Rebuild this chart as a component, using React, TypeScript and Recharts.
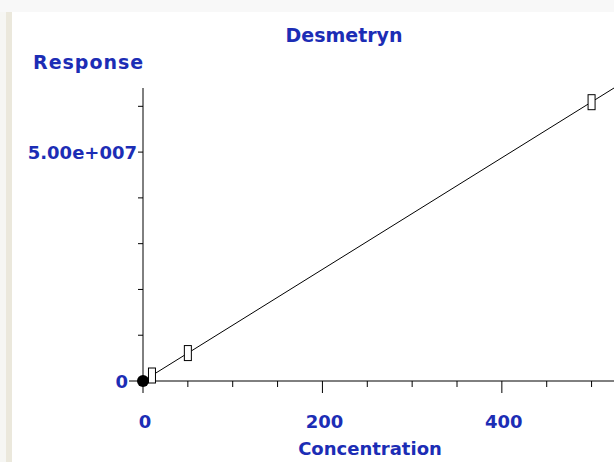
import { ComposedChart, Line, Scatter, XAxis, YAxis } from 'recharts';

// calibration points (concentration vs response)
const concentrations = [10, 50, 500];
const responses = [1200000, 6100000, 60900000];

// origin point, drawn filled
const originConc = [0];
const originResp = [0];

// linear fit
const fitConc = [0, 525];
const fitResp = [0, 64000000];

const xTicks = [0, 50, 100, 150, 200, 250, 300, 350, 400, 450, 500];
const xLabelled = [0, 200, 400];
const yTicks = [0, 10000000, 20000000, 30000000, 40000000, 50000000, 60000000];
const yLabelled = [0, 50000000];

const BLUE = '#1c2db5';
const FONT = '"DejaVu Sans", Verdana, sans-serif';

const points = concentrations.map((c, i) => ({ x: c, y: responses[i] }));
const origin = originConc.map((c, i) => ({ x: c, y: originResp[i] }));
const fit = fitConc.map((c, i) => ({ x: c, fit: fitResp[i] }));

function fmtResponse(v: number) {
  if (v === 0) return '0';
  const exp = Math.floor(Math.log10(v));
  const mant = (v / Math.pow(10, exp)).toFixed(2);
  return `${mant}e+${String(exp).padStart(3, '0')}`;
}

const XTick = ({ x, y, payload }: any) => {
  const major = xLabelled.includes(payload.value);
  return (
    <g>
      <line x1={x} x2={x} y1={y} y2={y + (major ? 12 : 6)} stroke="#000" />
      {major && (
        <text x={x + 2} y={y + 47} textAnchor="middle" fill={BLUE} fontFamily={FONT} fontWeight="bold" fontSize={18}>
          {payload.value}
        </text>
      )}
    </g>
  );
};

const YTick = ({ x, y, payload }: any) => {
  const labelled = yLabelled.includes(payload.value);
  const len = payload.value === 0 ? 14 : 5;
  return (
    <g>
      <line x1={x - len} x2={x} y1={y} y2={y} stroke="#000" />
      {labelled && (
        <text x={x - len - 1} y={y + 7} textAnchor="end" fill={BLUE} fontFamily={FONT} fontWeight="bold" fontSize={18}>
          {fmtResponse(payload.value)}
        </text>
      )}
    </g>
  );
};

const OpenBox = ({ cx, cy }: any) => (
  <rect x={cx - 3.5} y={cy - 7.5} width={7} height={15} fill="#fff" stroke="#000" strokeWidth={1} />
);

const FilledDot = ({ cx, cy }: any) => <circle cx={cx} cy={cy} r={6} fill="#000" />;

export default function App() {
  return (
    <div style={{ position: 'relative', width: 614, height: 462, background: '#fff', overflow: 'hidden' }}>
      <style>{'body{margin:0}'}</style>
      <div style={{ position: 'absolute', left: 0, top: 0, width: 614, height: 12, background: '#f8f8f8' }} />
      <div style={{ position: 'absolute', left: 0, top: 12, width: 6, height: 450, background: '#f6f6f3' }} />
      <div style={{ position: 'absolute', left: 6, top: 12, width: 6, height: 450, background: '#ebe8dc' }} />
      <ComposedChart width={614} height={462} margin={{ top: 88, right: 0, left: 0, bottom: 0 }} style={{ position: 'absolute', left: 0, top: 0 }}>
        <XAxis
          type="number"
          dataKey="x"
          domain={[0, 525]}
          ticks={xTicks}
          height={81}
          tickSize={0}
          tickMargin={0}
          tickLine={false}
          tick={<XTick />}
          stroke="#000"
          interval={0}
        />
        <YAxis
          type="number"
          domain={[0, 64000000]}
          ticks={yTicks}
          width={143}
          tickSize={0}
          tickMargin={0}
          tickLine={false}
          tick={<YTick />}
          stroke="#000"
          interval={0}
        />
        <Line data={fit} dataKey="fit" type="linear" stroke="#000" strokeWidth={1} dot={false} isAnimationActive={false} />
        <Scatter data={points} dataKey="y" shape={<OpenBox />} isAnimationActive={false} />
        <Scatter data={origin} dataKey="y" shape={<FilledDot />} isAnimationActive={false} />
      </ComposedChart>
      <svg width={614} height={462} style={{ position: 'absolute', left: 0, top: 0, pointerEvents: 'none' }}>
        <g fill={BLUE} fontFamily={FONT} fontWeight="bold">
          <text x={344} y={42} textAnchor="middle" fontSize={19}>Desmetryn</text>
          <text x={33} y={69} fontSize={19} letterSpacing={1}>Response</text>
          <text x={370} y={455} textAnchor="middle" fontSize={18}>Concentration</text>
        </g>
      </svg>
    </div>
  );
}
